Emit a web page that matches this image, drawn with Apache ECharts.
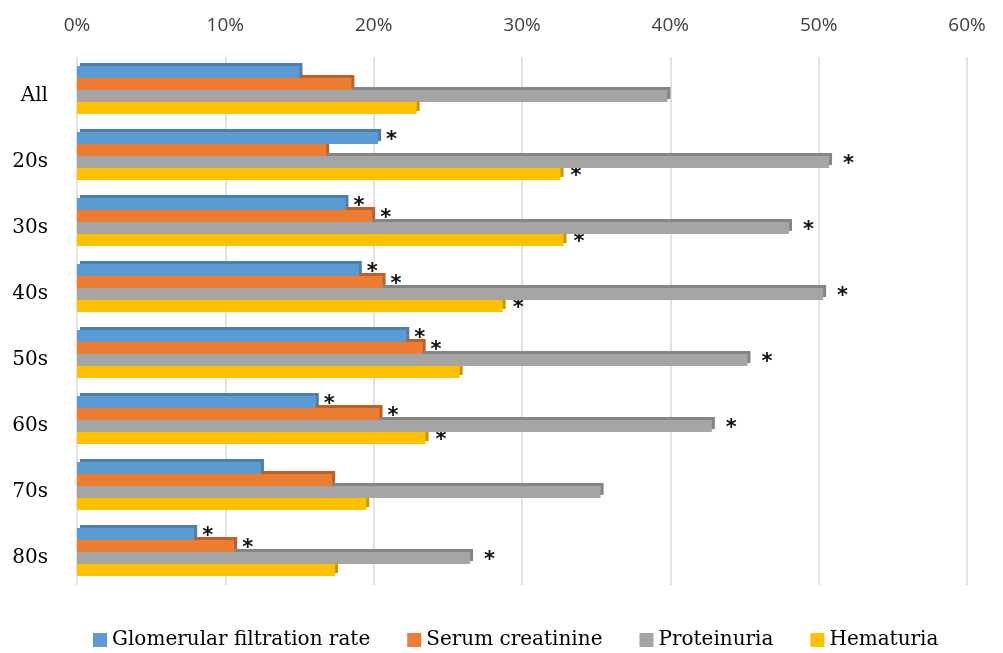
<!DOCTYPE html>
<html>
<head>
<meta charset="utf-8">
<script src="https://cdn.jsdelivr.net/npm/echarts@6/dist/echarts.min.js"></script>
<style>
html,body{margin:0;padding:0;background:#fff;}
#chart{width:1003px;height:653px;}
</style>
</head>
<body>
<div id="chart"></div>
<script>
// ---- data ----
const categories = ['All', '20s', '30s', '40s', '50s', '60s', '70s', '80s'];
const seriesNames = ['Glomerular filtration rate', 'Serum creatinine', 'Proteinuria', 'Hematuria'];
const gfr        = [15.0, 20.3, 18.1, 19.0, 22.2, 16.1, 12.4, 7.9];
const creatinine = [18.5, 16.8, 19.9, 20.6, 23.3, 20.4, 17.2, 10.6];
const proteinuria= [39.8, 50.7, 48.0, 50.3, 45.2, 42.8, 35.3, 26.5];
const hematuria  = [22.9, 32.6, 32.8, 28.7, 25.8, 23.5, 19.5, 17.4];
// significance markers (*)
const sigGfr        = [0, 1, 1, 1, 1, 1, 0, 1];
const sigCreatinine = [0, 0, 1, 1, 1, 1, 0, 1];
const sigProteinuria= [0, 1, 1, 1, 1, 1, 0, 1];
const sigHematuria  = [0, 1, 1, 1, 0, 1, 0, 0];
const xTicks = [0, 10, 20, 30, 40, 50, 60];

// ---- styling ----
const colors = ['#5B9BD5', '#ED7D31', '#A5A5A5', '#FFC000'];
const darkColors = ['#4A7FB0', '#B9632A', '#858585', '#C99A00'];
const labelDist = [8, 8, 14, 10];

const values = [gfr, creatinine, proteinuria, hematuria];
const sigs = [sigGfr, sigCreatinine, sigProteinuria, sigHematuria];

const series = values.map((vals, si) => ({
  name: seriesNames[si],
  type: 'bar',
  barWidth: 12,
  barGap: '0%',
  z: 10 - si,
  itemStyle: {
    color: colors[si],
    shadowColor: darkColors[si],
    shadowBlur: 0,
    shadowOffsetX: 3,
    shadowOffsetY: -3
  },
  emphasis: { disabled: true },
  data: vals.map((v, i) => ({
    value: v,
    label: {
      show: !!sigs[si][i],
      position: 'right',
      distance: labelDist[si],
      formatter: '*',
      fontFamily: 'DejaVu Sans',
      fontWeight: 'bold',
      fontSize: 21,
      color: '#111',
      offset: [0, 3]
    }
  }))
}));

const chart = echarts.init(document.getElementById('chart'), null, { renderer: 'canvas' });
chart.setOption({
  animation: false,
  backgroundColor: '#fff',
  color: colors,
  grid: { left: 77, right: 36, top: 57, bottom: 68, containLabel: false },
  xAxis: {
    type: 'value',
    position: 'top',
    min: xTicks[0],
    max: xTicks[xTicks.length - 1],
    interval: 10,
    axisLine: { show: false },
    axisTick: { show: false },
    axisLabel: {
      formatter: '{value}%',
      fontFamily: 'Open Sans',
      fontSize: 19,
      color: '#404040',
      margin: 22
    },
    splitLine: { show: true, lineStyle: { color: '#D9D9D9', width: 1.5 } }
  },
  yAxis: {
    type: 'category',
    inverse: true,
    data: categories,
    axisLine: { show: false },
    axisTick: { show: false },
    axisLabel: {
      fontFamily: 'DejaVu Serif',
      fontSize: 20,
      color: '#000',
      margin: 29,
      verticalAlign: 'top',
      lineHeight: 12
    }
  },
  legend: {
    left: 88,
    top: 625,
    itemWidth: 14,
    itemHeight: 14,
    itemGap: 37,
    icon: 'rect',
    textStyle: { fontFamily: 'DejaVu Serif', fontSize: 20, color: '#000' },
    itemStyle: { shadowColor: 'transparent', shadowBlur: 0, shadowOffsetX: 0, shadowOffsetY: 0 },
    data: seriesNames
  },
  series: series
});
</script>
</body>
</html>
